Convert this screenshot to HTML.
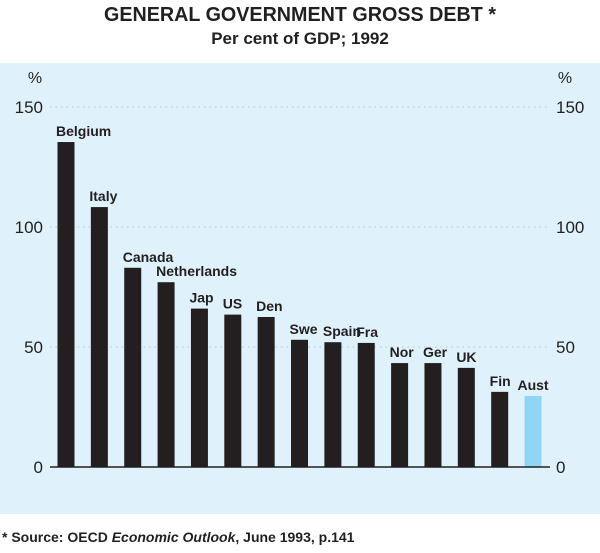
<!DOCTYPE html>
<html><head><meta charset="utf-8"><style>
body{margin:0;background:#fff;font-family:"Liberation Sans",Arial,sans-serif}
</style></head><body>
<svg id="chart" width="600" height="548" xmlns="http://www.w3.org/2000/svg" font-family="Liberation Sans, Arial, sans-serif">
<text x="300" y="21" text-anchor="middle" font-size="20" font-weight="bold" fill="#231f20" textLength="392" lengthAdjust="spacingAndGlyphs">GENERAL GOVERNMENT GROSS DEBT *</text>
<text x="300" y="44" text-anchor="middle" font-size="17" font-weight="bold" fill="#231f20">Per cent of GDP; 1992</text>
<rect x="0" y="63" width="600" height="451" fill="#dff1fb"/>
<text x="35" y="83" text-anchor="middle" font-size="16" fill="#231f20">%</text>
<text x="565" y="83" text-anchor="middle" font-size="16" fill="#231f20">%</text>
<g id="grid"></g><g id="bars"></g>
<text x="2" y="542" font-size="14" font-weight="bold" fill="#231f20">* Source: OECD <tspan font-style="italic">Economic Outlook</tspan>, June 1993, p.141</text>
</svg>
<script>
const categories=["Belgium","Italy","Canada","Netherlands","Jap","US","Den","Swe","Spain","Fra","Nor","Ger","UK","Fin","Aust"];
const values=[135.4,108.3,83,77,66,63.5,62.5,53,52,51.7,43.3,43.3,41.3,31.3,29.6];
const ticks=[0,50,100,150];
const NS="http://www.w3.org/2000/svg";
const y=v=>467-v*2.4;
const x=i=>66+i*33.36;
function mk(t,a,p){const e=document.createElementNS(NS,t);for(const k in a)e.setAttribute(k,a[k]);p.appendChild(e);return e;}
const g=document.getElementById('grid'),b=document.getElementById('bars');
ticks.forEach(t=>{
  if(t>0){const l=mk('line',{x1:50,x2:550,y1:y(t),y2:y(t),stroke:'#b8c4cc','stroke-dasharray':'1.5,4'},g);
  
  }
  const a=mk('text',{x:43,y:y(t)+6,'text-anchor':'end','font-size':17,fill:'#231f20'},g);a.textContent=t;
  
  
  const c=mk('text',{x:556,y:y(t)+6,'font-size':17,fill:'#231f20'},g);c.textContent=t;
  
  
});
categories.forEach((c,i)=>{
  const last=i===categories.length-1;
  const r=mk('rect',{x:x(i)-8.5,y:y(values[i]),width:17,height:values[i]*2.4,fill:last?'#8fd6f4':'#231f20'},b);
  
  
  const t=mk('text',{x:last?x(i):x(i)-10,y:y(values[i])-6,'text-anchor':last?'middle':'start','font-size':14,'font-weight':'bold',fill:'#231f20'},b);
  t.textContent=c;
  
  
});
const ax=mk('line',{x1:50,x2:550,y1:y(0),y2:y(0),stroke:'#231f20','stroke-width':1.5},b);


</script>
</body></html>
